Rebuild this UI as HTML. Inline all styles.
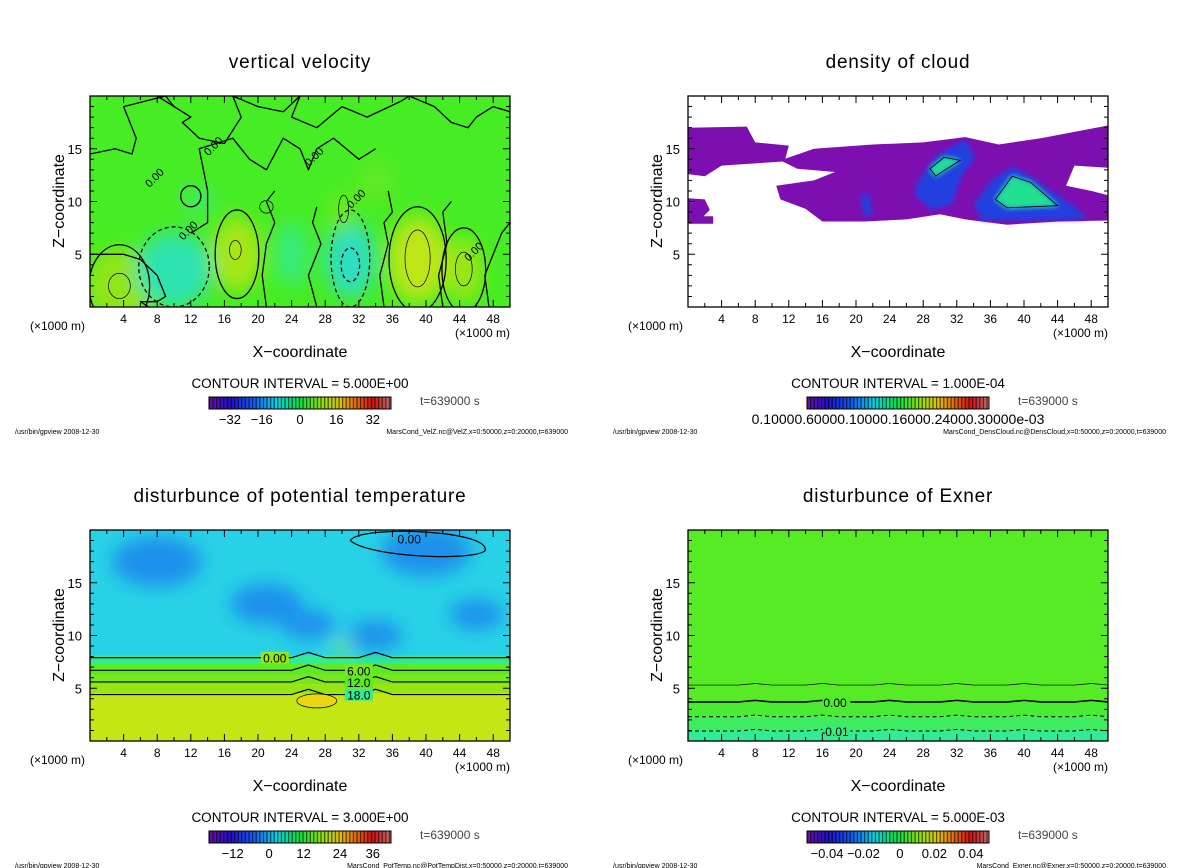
<!DOCTYPE html>
<html><head><meta charset="utf-8"><style>
body{margin:0;background:#fff;width:1200px;height:868px;overflow:hidden}
svg{display:block;font-family:"Liberation Sans","DejaVu Sans",sans-serif}
</style></head><body>
<svg id="fig" width="1200" height="868" viewBox="0 0 1200 868" xmlns="http://www.w3.org/2000/svg">
<defs>
<filter id="blur8" x="-50%" y="-50%" width="200%" height="200%"><feGaussianBlur stdDeviation="9"/></filter>
<filter id="blur3"><feGaussianBlur stdDeviation="2.5"/></filter>
<linearGradient id="rainbow" x1="0" x2="1" y1="0" y2="0">
<stop offset="0" stop-color="#6a10a0"/><stop offset="0.12" stop-color="#2010d0"/><stop offset="0.25" stop-color="#1060f0"/>
<stop offset="0.37" stop-color="#10d0e0"/><stop offset="0.5" stop-color="#10e040"/><stop offset="0.62" stop-color="#90e010"/>
<stop offset="0.72" stop-color="#e0c010"/><stop offset="0.82" stop-color="#e06010"/><stop offset="0.9" stop-color="#d01010"/><stop offset="1" stop-color="#c07070"/>
</linearGradient>
<pattern id="stripes" width="3.6" height="20" patternUnits="userSpaceOnUse"><rect x="0" y="0" width="1.2" height="20" fill="#000" opacity="0.6"/></pattern>
</defs>
</svg>
<script>
// ---- data ----
const xTicks=[4,8,12,16,20,24,28,32,36,40,44,48];
const zTicks=[5,10,15];
const titles=["vertical velocity","density of cloud","disturbunce of potential temperature","disturbunce of Exner"];
const intervals=["5.000E+00","1.000E-04","3.000E+00","5.000E-03"];
const cbLabels=[["\u221232","\u221216","0","16","32"],["0.10000.60000.10000.16000.24000.30000e-03"],["\u221212","0","12","24","36"],["\u22120.04","\u22120.02","0","0.02","0.04"]];
const cbLabelPos=[[0.115,0.29,0.5,0.7,0.9],[0.5],[0.13,0.33,0.52,0.72,0.9],[0.11,0.31,0.51,0.7,0.9]];
const footers=["MarsCond_VelZ.nc@VelZ,x=0:50000,z=0:20000,t=639000","MarsCond_DensCloud.nc@DensCloud,x=0:50000,z=0:20000,t=639000","MarsCond_PotTemp.nc@PotTempDist,x=0:50000,z=0:20000,t=639000","MarsCond_Exner.nc@Exner,x=0:50000,z=0:20000,t=639000"];
// vertical velocity blobs
const velX=[3.5,10,17.5,31,30,39,44.5,24,13,34];
const velZ=[2,3.5,5,4.5,9,4.5,3.5,5,10,12];
const velRX=[4,4.5,3,3,1.5,3.5,2.2,2,2,2];
const velRZ=[3.5,3.5,3.5,3.5,2,4,3,3,1.5,2];
const velV=[12,-10,16,-12,6,20,14,-5,-3,4];
const velCX=[3.5,3.5,17.5,17.3,39,39,44.5,44.5,10,31,31,30.2,12,21];
const velCZ=[2,2,5,5.4,4.5,4.6,3.5,3.6,3.8,4.6,4,9.3,10.5,9.5];
const velCRX=[3.6,1.3,2.6,0.7,3.4,1.5,2.6,1,4.2,2.3,1.1,0.6,1.2,0.8];
const velCRZ=[3.9,1.2,4.2,0.9,5,2.7,4,1.6,3.8,4.6,1.6,1.3,1,0.6];
const velCD=[0,0,0,0,0,0,0,0,1,1,1,0,0,0];
const zeroLinesX=[[0,4,6,8,9,8,6,7],[21,20.5,21,22,21,22],[27,26,27.5,26.5,27],[35,34.5,35.5,35,36,35.5],[42,41.5,42.5,42,43],[47.5,47,48,49,50],[0,3,5,5.5,4,9,10],[12,14,14,13,17,19,21,23,25,26,27,29,32,34],[8,10,12,11,13,16,18,17,20,23,25,24,27,30,33,37,38,41,43,45,46,48,50]];
const zeroLinesZ=[[5,5,4.5,3,1,0.5,0.5,0],[0,3,6,8,10,11],[0,3,6,8,9.5],[0,3,6,8,9,11],[0,3,6,9,10],[0,3,5,7,8],[14.5,15,14.5,16,19,20,19],[7,8,11,15,16,14,13,16,15,13,15,16,14,15],[20,19,18,17.5,16,15.5,18,20,19,18.5,20,18,17,19,18,19.5,20,19,17.5,17,18,19,18.5]];
const cloudPolys=[
 [[0,17],[7,17.1],[8,15.6],[12,15.3],[11.5,13.8],[4,13.4],[2,12.4],[0,12.6]],
 [[0,10.3],[2,10.2],[2.6,9.2],[1.5,8.3],[0,8.3]],
 [[11,13.9],[15,15],[22,15.4],[28,15.6],[33,16.1],[37,15.4],[42,16],[50,17.2],[50,13.2],[46,13.4],[45,11.5],[48,11],[50,10.6],[50,8.2],[44,8.1],[38,7.8],[33,8.3],[30,8.8],[26,8.3],[21,8.1],[16,8.1],[14,9.3],[11,10.2],[10.5,11.5],[15,12],[17.5,12.8],[13,13.1]],
 [[0,8.6],[3,8.6],[3,7.9],[0,7.9]]
];
const cloudCore=[
 [[27.3,11.8],[29.5,14.3],[33,15.9],[34.2,14.2],[32.5,12.3],[31.5,9.8],[29,9.2],[27,10.6]],
 [[34,9.8],[36.3,12.1],[38.6,13.3],[40.4,12.6],[42.5,11.4],[46.5,9.2],[47.5,8.3],[35,8.2]],
 [[20.5,10.5],[21.5,10.8],[22,8.8],[21,8.6]]
];
const cloudInner=[
 [[28.8,13.1],[30.5,14.2],[32.4,13.9],[30.4,12.9],[29.5,12.4]],
 [[36.6,10.2],[38.6,12.4],[40.8,11.8],[44,9.6],[38,9.4]]
];
const ptBandTop=[4.5,5.4,6.3,7.3,8.1,20];
const ptBandLvl=[0.66,0.6,0.56,0.52,0.45,0.37];
const ptLinesZ=[7.9,6.7,5.6,4.4];
const ptLineLabels=["0.00","6.00","12.0","18.0"];
const ptLabelX=[12,22,22,22];
const ptPatchX=[8,21,26,34,40,46,30];
const ptPatchZ=[17,13,11,10,18,12,8.8];
const ptPatchR=[5,4,3,3,5,3,1];
const exBandTop=[1,2.3,3.7,20];
const exBandLvl=[0.45,0.475,0.495,0.515];
const exLinesZ=[5.3,3.7,2.3,0.95];
const exLineDash=[0,0,1,1];
const exLineW=[0.7,1.6,1,1];

// ---- helpers ----
const NS="http://www.w3.org/2000/svg";
const svg=document.getElementById('fig');
function mk(tag,attrs,parent){const e=document.createElementNS(NS,tag);for(const k in attrs)e.setAttribute(k,attrs[k]);(parent||svg).appendChild(e);return e;}
const PL=90,PR=510,PT=96,PB=307;
function X(ox,km){return ox+PL+km*(PR-PL)/50;}
function Z(oy,km){return oy+PB-km*(PB-PT)/20;}
const stops=[[0,[106,16,160]],[0.12,[32,16,208]],[0.25,[16,96,240]],[0.37,[40,210,230]],[0.45,[50,235,150]],[0.5,[75,236,40]],[0.6,[150,230,20]],[0.68,[210,230,20]],[0.75,[230,190,16]],[0.85,[230,90,16]],[1,[200,20,20]]];
function cmap(t){t=Math.max(0,Math.min(1,t));for(let i=1;i<stops.length;i++){if(t<=stops[i][0]){const a=stops[i-1],b=stops[i];const f=(t-a[0])/(b[0]-a[0]);const c=a[1].map((v,j)=>Math.round(v+(b[1][j]-v)*f));return `rgb(${c})`;}}return 'rgb(200,20,20)';}
function txt(x,y,s,size,anchor,parent,name){const t=mk('text',{x:x,y:y,'font-size':size,'text-anchor':anchor||'start',fill:'#000'},parent);t.textContent=s;return t;}
function poly(ox,oy,pts){return pts.map(p=>X(ox,p[0]).toFixed(1)+','+Z(oy,p[1]).toFixed(1)).join(' ');}

function panelFrame(i,ox,oy,g){
  txt(ox+300,oy+68,titles[i],19,'middle',g,'panel-title').setAttribute('letter-spacing','0.8');
  const fr=mk('rect',{x:ox+PL,y:oy+PT,width:PR-PL,height:PB-PT,fill:'none',stroke:'#000','stroke-width':1.3},g);
  
  let d='';
  for(let k=1;k<50;k++){const x=X(ox,k);const L=(k%4==0)?7:(k%2==0?4:0);if(!L)continue;d+=`M${x},${oy+PB}v${-L}M${x},${oy+PT}v${L}`;}
  for(let k=1;k<20;k++){const y=Z(oy,k);const L=(k%5==0)?7:4;d+=`M${ox+PL},${y}h${L}M${ox+PR},${y}h${-L}`;}
  const tk=mk('path',{d:d,stroke:'#000','stroke-width':1,fill:'none'},g);
  
  xTicks.forEach(v=>txt(X(ox,v),oy+323,String(v),12,'middle',g,'x-tick-label'));
  zTicks.forEach(v=>txt(ox+PL-8,Z(oy,v)+5,String(v),13,'end',g,'y-tick-label'));
  txt(ox+30,oy+330,'(\u00d71000 m)',12,'start',g,'x-unit-left');
  txt(ox+455,oy+337,'(\u00d71000 m)',12,'start',g,'x-unit-right');
  txt(ox+300,oy+357,'X\u2212coordinate',16,'middle',g,'x-axis-title');
  const yt=txt(0,0,'Z\u2212coordinate',16,'middle',g,'y-axis-title');
  yt.setAttribute('transform',`translate(${ox+64},${oy+201}) rotate(-90)`);
  txt(ox+300,oy+388,'CONTOUR INTERVAL = '+intervals[i],13.5,'middle',g,'contour-interval');
  txt(ox+420,oy+405,'t=639000 s',12,'start',g,'time-label').setAttribute('fill','#444');
  const cb=mk('g',{},g);
  const bx=ox+209,bw=182,by=oy+397,bh=12;
  mk('rect',{x:bx,y:by,width:bw,height:bh,fill:'url(#rainbow)'},cb);
  mk('rect',{x:bx,y:by,width:bw,height:bh,fill:'url(#stripes)'},cb);
  mk('rect',{x:bx,y:by,width:bw,height:bh,fill:'none',stroke:'#000','stroke-width':1},cb);
  cbLabels[i].forEach((s,j)=>txt(bx+bw*cbLabelPos[i][j],oy+424,s,i==1?14:13,'middle',cb,'colorbar-label'));
  txt(ox+15,oy+434,'/usr/bin/gpview   2008-12-30',7,'start',g,'footer-left');
  txt(ox+568,oy+434,footers[i],7,'end',g,'footer-right');
}
function plotGroup(i,ox,oy){
  const g=mk('g',{});
  const cp=mk('clipPath',{id:'clip'+i},g);mk('rect',{x:ox+PL,y:oy+PT,width:PR-PL,height:PB-PT},cp);
  const inner=mk('g',{'clip-path':`url(#clip${i})`},g);
  
  return [g,inner];
}

// ---- panel 1 ----
(function(){const ox=0,oy=0;const [g,p]=plotGroup(0,ox,oy);
  mk('rect',{x:ox+PL,y:oy+PT,width:PR-PL,height:PB-PT,fill:'rgb(70,236,36)'},p);
  const bg=mk('g',{filter:'url(#blur8)'},p);
  velX.forEach((x,k)=>{const e=mk('ellipse',{cx:X(ox,x),cy:Z(oy,velZ[k]),rx:velRX[k]*8.4,ry:velRZ[k]*10.55,fill:cmap(0.5+velV[k]/130)},bg);});
  velCX.forEach((x,k)=>{const e=mk('ellipse',{cx:X(ox,x),cy:Z(oy,velCZ[k]),rx:velCRX[k]*8.4,ry:velCRZ[k]*10.55,fill:'none',stroke:'#000','stroke-width':(k%2==1&&!velCD[k])?0.7:1.3,'stroke-dasharray':velCD[k]?'4,3':'none'},p);});
  zeroLinesX.forEach((xs,k)=>{const pts=xs.map((x,j)=>[x,zeroLinesZ[k][j]]);const e=mk('polyline',{points:poly(ox,oy,pts),fill:'none',stroke:'#000','stroke-width':1.3,'stroke-linejoin':'round'},p);});
  [[15,15,'0.00'],[8,12,'0.00'],[12,7,'0.00'],[27,14,'0.00'],[32,10,'0.00'],[46,5,'0.00']].forEach(l=>{const t=txt(X(ox,l[0]),Z(oy,l[1]),l[2],11,'middle',p,'contour-label');t.setAttribute('transform',`rotate(-45 ${X(ox,l[0])} ${Z(oy,l[1])})`);});
  panelFrame(0,ox,oy,g);
})();
// ---- panel 2 ----
(function(){const ox=598,oy=0;const [g,p]=plotGroup(1,ox,oy);
  mk('rect',{x:ox+PL,y:oy+PT,width:PR-PL,height:PB-PT,fill:'#fff'},p);
  cloudPolys.forEach((pts,k)=>{const e=mk('polygon',{points:poly(ox,oy,pts),fill:'#7d0fb0'},p);});
  const cg=mk('g',{filter:'url(#blur3)'},p);
  cloudCore.forEach((pts,k)=>{const e=mk('polygon',{points:poly(ox,oy,pts),fill:'#2040e0'},cg);});
  cloudInner.forEach((pts,k)=>{const e=mk('polygon',{points:poly(ox,oy,pts),fill:'#20e090'},cg);});
  cloudInner.forEach((pts,k)=>{mk('polygon',{points:poly(ox,oy,pts),fill:'none',stroke:'#000','stroke-width':0.8},p);});
  panelFrame(1,ox,oy,g);
})();
// ---- panel 3 ----
(function(){const ox=0,oy=434;const [g,p]=plotGroup(2,ox,oy);
  let lo=0;
  ptBandTop.forEach((top,k)=>{const e=mk('rect',{x:ox+PL,y:Z(oy,top),width:PR-PL,height:Z(oy,lo)-Z(oy,top),fill:cmap(ptBandLvl[k])},p);lo=top;});
  const bg=mk('g',{filter:'url(#blur8)'},p);
  ptPatchX.forEach((x,k)=>{mk('ellipse',{cx:X(ox,x),cy:Z(oy,ptPatchZ[k]),rx:ptPatchR[k]*9,ry:ptPatchR[k]*5,fill:k==6?cmap(0.62):cmap(0.3)},bg);});
  ptLinesZ.forEach((z,k)=>{let d=`M${ox+PL},${Z(oy,z)}`;for(let x=2;x<=50;x+=2){const bump=(Math.abs(x-26)<2||Math.abs(x-34)<2)?0.5:0;d+=`L${X(ox,x)},${Z(oy,z+bump)}`;}
    const e=mk('path',{d:d,fill:'none',stroke:'#000','stroke-width':1.2},p);
    const lx=X(ox,ptLabelX[k]+10),ly=Z(oy,z);mk('rect',{x:lx-14,y:ly-6,width:28,height:12,fill:cmap(ptBandLvl[Math.min(k+1,4)])},p);txt(lx,ly+5,ptLineLabels[k],12,'middle',p,'contour-label');});
  mk('ellipse',{cx:X(ox,27),cy:Z(oy,3.8),rx:20,ry:7,fill:'#e8d810',stroke:'#000','stroke-width':0.7},p);
  mk('path',{d:`M${X(ox,31)},${Z(oy,19)} C${X(ox,32)},${Z(oy,20.5)} ${X(ox,48)},${Z(oy,20)} ${X(ox,47)},${Z(oy,18)} C${X(ox,45)},${Z(oy,17)} ${X(ox,33)},${Z(oy,17.5)} ${X(ox,31)},${Z(oy,19)}Z`,fill:'none',stroke:'#000','stroke-width':1.2},p);
  txt(X(ox,38),Z(oy,18.7),'0.00',12,'middle',p,'contour-label');
  panelFrame(2,ox,oy,g);
})();
// ---- panel 4 ----
(function(){const ox=598,oy=434;const [g,p]=plotGroup(3,ox,oy);
  let lo=0;
  exBandTop.forEach((top,k)=>{const e=mk('rect',{x:ox+PL,y:Z(oy,top),width:PR-PL,height:Z(oy,lo)-Z(oy,top),fill:cmap(exBandLvl[k])},p);lo=top;});
  exLinesZ.forEach((z,k)=>{let d=`M${ox+PL},${Z(oy,z)}`;for(let x=2;x<=50;x+=2){d+=`L${X(ox,x)},${Z(oy,z+((x%8==0)?0.15:0))}`;}
    const e=mk('path',{d:d,fill:'none',stroke:'#000','stroke-width':exLineW[k],'stroke-dasharray':exLineDash[k]?'4,3':'none'},p);});
  mk('rect',{x:X(ox,16),y:Z(oy,3.7)-6,width:28,height:12,fill:cmap(0.5)},p);txt(X(ox,17.5),Z(oy,3.7)+5,'0.00',12,'middle',p,'contour-label');
  mk('rect',{x:X(ox,16),y:Z(oy,0.95)-6,width:28,height:12,fill:cmap(0.46)},p);txt(X(ox,17.5),Z(oy,0.95)+5,'-0.01',12,'middle',p,'contour-label');
  panelFrame(3,ox,oy,g);
})();
</script>
</body></html>
